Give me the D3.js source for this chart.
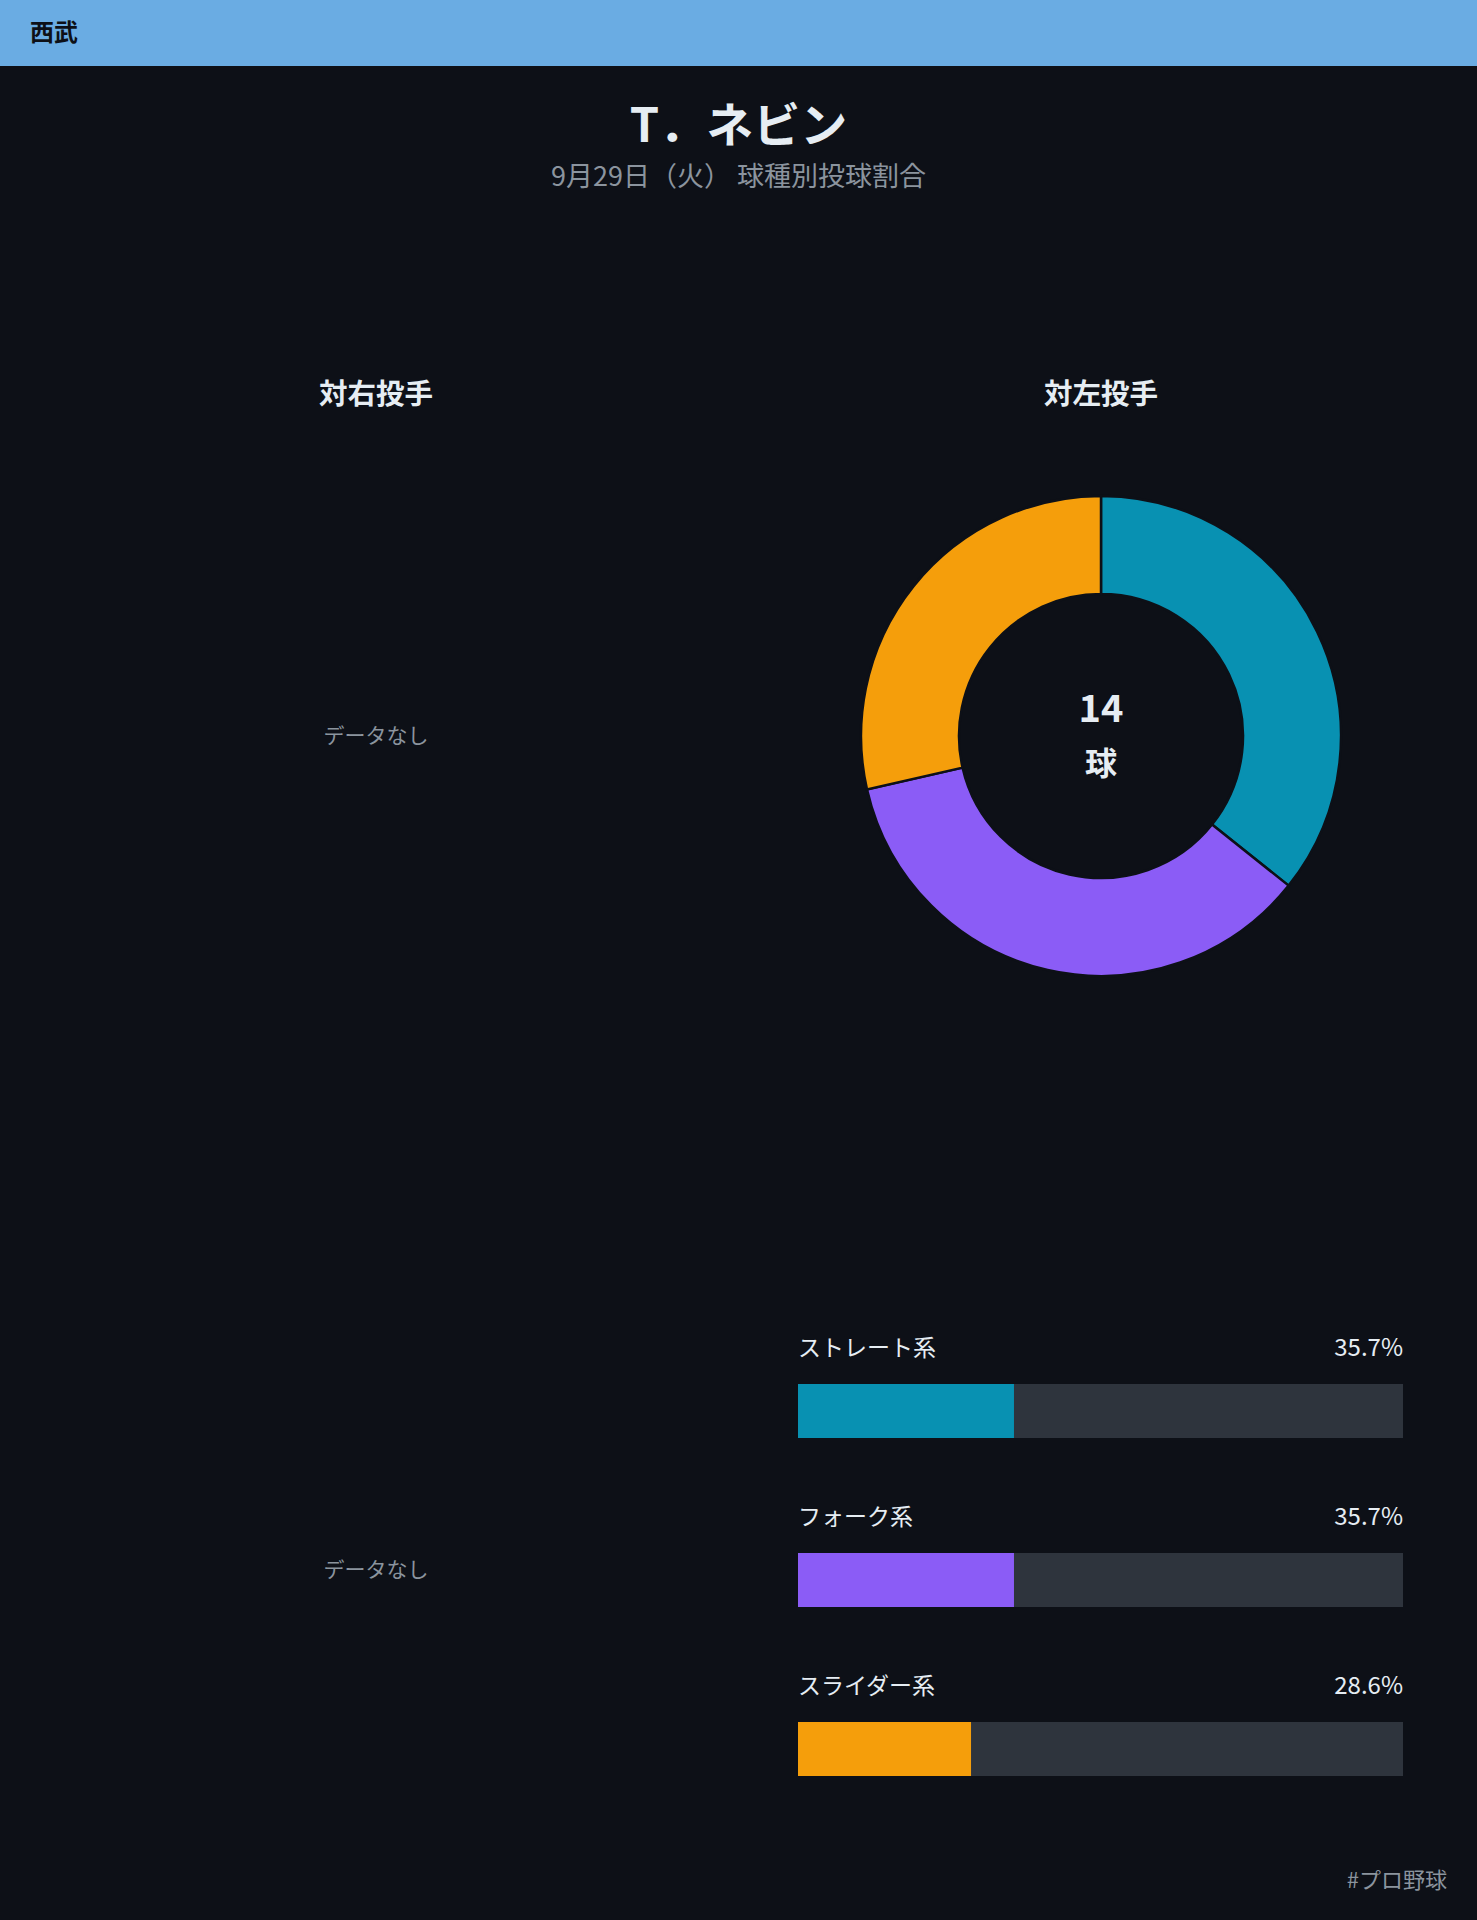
<!DOCTYPE html>
<html><head><meta charset="utf-8">
<script src="https://cdn.jsdelivr.net/npm/d3@7"></script>
<style>
html,body{margin:0;padding:0;background:#0d1017;}
svg{display:block;}
text{font-family:"Noto Sans CJK JP","Noto Sans",sans-serif;}
</style></head>
<body>
<div id="chart"></div>
<script>
const teamName = "西武";
const playerName = "T．ネビン";
const subtitle = "9月29日（火） 球種別投球割合";
const panelTitles = ["対右投手", "対左投手"];
const noDataText = "データなし";
const hashtag = "#プロ野球";
const pitchTypes = ["ストレート系", "フォーク系", "スライダー系"];
const pitchColors = ["#0891b2", "#8b5cf6", "#f59e0b"];
const vsLeftCounts = [5, 5, 4];
const vsLeftPercents = [35.7, 35.7, 28.6];
const vsRightCounts = [];
const totalUnit = "球";

const W = 1477, H = 1920;
const svg = d3.select("#chart").append("svg").attr("width", W).attr("height", H);
svg.append("rect").attr("width", W).attr("height", H).attr("fill", "#0d1017");

// header
svg.append("rect").attr("width", W).attr("height", 66).attr("fill", "#6aace3");
svg.append("text").attr("x", 30).attr("y", 33).attr("dy", "0.35em")
  .attr("font-size", 24).attr("font-weight", 700).attr("fill", "#0d1017").text(teamName);

// title
svg.append("text").attr("x", W/2).attr("y", 126).attr("dy", "0.35em").attr("text-anchor", "middle")
  .attr("font-size", 47).attr("font-weight", 700).attr("fill", "#e6edf3").text(playerName);
svg.append("text").attr("x", W/2).attr("y", 177).attr("dy", "0.35em").attr("text-anchor", "middle")
  .attr("font-size", 27).attr("fill", "#8b949e").text(subtitle);

const colX = [376, 1101];
panelTitles.forEach((t, i) => {
  svg.append("text").attr("x", colX[i]).attr("y", 394).attr("dy", "0.35em").attr("text-anchor", "middle")
    .attr("font-size", 28.5).attr("font-weight", 700).attr("fill", "#e6edf3").text(t);
});

// left: no data
[736, 1570].forEach(y => {
  svg.append("text").attr("x", colX[0]).attr("y", y).attr("dy", "0.35em").attr("text-anchor", "middle")
    .attr("font-size", 21).attr("fill", "#8b949e").text(noDataText);
});

// donut
const cx = 1101, cy = 736;
const pie = d3.pie().sort(null).value(d => d);
const arc = d3.arc().innerRadius(142).outerRadius(240);
const g = svg.append("g").attr("transform", `translate(${cx},${cy})`);
g.selectAll("path").data(pie(vsLeftCounts)).join("path")
  .attr("d", arc).attr("fill", (d, i) => pitchColors[i])
  .attr("stroke", "#0d1017").attr("stroke-width", 2.5);
const total = d3.sum(vsLeftCounts);
g.append("text").attr("x", 0).attr("y", -27).attr("dy", "0.35em").attr("text-anchor", "middle")
  .attr("font-family", "DejaVu Sans").attr("font-size", 38).attr("font-weight", 700).attr("fill", "#e6edf3").text(total);
g.append("text").attr("x", 0).attr("y", 28).attr("dy", "0.35em").attr("text-anchor", "middle")
  .attr("font-size", 32).attr("font-weight", 700).attr("fill", "#e6edf3").text(totalUnit);

// bars
const barX0 = 798, barW = 605, barH = 54;
const x = d3.scaleLinear().domain([0, 100]).range([0, barW]);
const barTop = d3.scaleOrdinal().domain(pitchTypes).range([1384, 1553, 1722]);
pitchTypes.forEach((p, i) => {
  const y0 = barTop(p);
  svg.append("text").attr("x", barX0).attr("y", y0 - 36).attr("dy", "0.35em")
    .attr("font-size", 23).attr("fill", "#e6edf3").text(p);
  svg.append("text").attr("x", barX0 + barW).attr("y", y0 - 36).attr("dy", "0.35em").attr("text-anchor", "end")
    .attr("font-family", "Noto Sans").attr("font-size", 24).attr("fill", "#e6edf3").text(vsLeftPercents[i].toFixed(1) + "%");
  svg.append("rect").attr("x", barX0).attr("y", y0).attr("width", x(100)).attr("height", barH).attr("fill", "#2e343d");
  svg.append("rect").attr("x", barX0).attr("y", y0).attr("width", x(vsLeftPercents[i])).attr("height", barH).attr("fill", pitchColors[i]);
});

// footer
svg.append("text").attr("x", 1447).attr("y", 1880).attr("dy", "0.35em").attr("text-anchor", "end")
  .attr("font-size", 22).attr("fill", "#8b949e").text(hashtag);
</script>
</body></html>
